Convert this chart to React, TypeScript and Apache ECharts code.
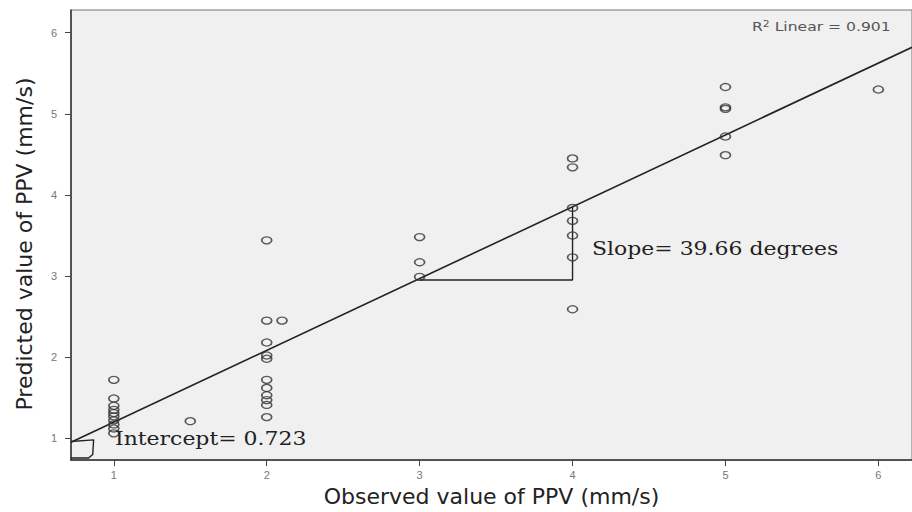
import React, { useEffect, useRef } from "react";
import * as echarts from "echarts";

// Observed (x) vs predicted (y) PPV, mm/s
const pointsObs1: number[] = [1, 1, 1, 1, 1, 1, 1, 1, 1, 1];
const pointsPred1: number[] = [1.72, 1.49, 1.40, 1.35, 1.31, 1.27, 1.22, 1.17, 1.12, 1.06];
const pointsObs2: number[] = [1.5, 2, 2, 2.1, 2, 2, 2, 2, 2, 2, 2, 2, 2];
const pointsPred2: number[] = [1.21, 3.44, 2.45, 2.45, 2.18, 2.02, 1.98, 1.72, 1.62, 1.53, 1.47, 1.41, 1.26];
const pointsObs3: number[] = [3, 3, 3, 4, 4, 4, 4, 4, 4, 4];
const pointsPred3: number[] = [3.48, 3.17, 2.99, 4.45, 4.34, 3.84, 3.68, 3.50, 3.23, 2.59];
const pointsObs4: number[] = [5, 5, 5, 5, 5, 6];
const pointsPred4: number[] = [5.33, 5.08, 5.06, 4.72, 4.49, 5.30];

const observed: number[] = [...pointsObs1, ...pointsObs2, ...pointsObs3, ...pointsObs4];
const predicted: number[] = [...pointsPred1, ...pointsPred2, ...pointsPred3, ...pointsPred4];

// fit line end points
const fitLine: number[][] = [[0.72, 0.95], [6.22, 5.82]];
// slope triangle
const slopeTriangle: number[][] = [[3, 2.95], [4, 2.95], [4, 3.85]];
// intercept marker box at the origin corner
const interceptBox: number[][] = [[0.72, 0.96], [0.868, 0.98], [0.862, 0.8], [0.835, 0.755], [0.72, 0.755]];

const tickValues: number[] = [1, 2, 3, 4, 5, 6];
const xRange: number[] = [0.72, 6.22];
const yRange: number[] = [0.73, 6.28];

const xTitle = "Observed value of PPV (mm/s)";
const yTitle = "Predicted value of PPV (mm/s)";
const slopeText = "Slope= 39.66 degrees";
const interceptText = "Intercept= 0.723";
const r2Value = "0.901";

export default function App() {
  const ref = useRef<HTMLDivElement>(null);
  useEffect(() => {
    if (!ref.current) return;
    const chart = echarts.init(ref.current, undefined, { renderer: "svg" });
    const scatterData = observed.map((x, i) => [x, predicted[i]]);
    const axisLabelStyle = {
      color: "#777",
      fontSize: 11,
      fontFamily: "Liberation Sans",
    };
    chart.setOption({
      animation: false,
      backgroundColor: "#ffffff",
      grid: {
        left: 71,
        top: 10,
        right: -2,
        bottom: 49,
        show: true,
        backgroundColor: "#f0f0f0",
        borderColor: "#777",
        borderWidth: 1,
      },
      xAxis: {
        type: "value",
        min: xRange[0],
        max: xRange[1],
        name: xTitle,
        nameLocation: "middle",
        nameGap: 21,
        nameTextStyle: { fontSize: 22, fontFamily: "DejaVu Sans", color: "#222" },
        axisLine: { show: true, onZero: false, lineStyle: { color: "#333", width: 1.5 } },
        axisTick: { show: true, inside: false, length: 6, customValues: tickValues, lineStyle: { color: "#444" } },
        axisLabel: { ...axisLabelStyle, margin: 9, customValues: tickValues },
        splitLine: { show: false },
      },
      yAxis: {
        type: "value",
        min: yRange[0],
        max: yRange[1],
        name: yTitle,
        nameLocation: "middle",
        nameGap: 36,
        nameTextStyle: { fontSize: 22, fontFamily: "DejaVu Sans", color: "#222", padding: [0, 18, 0, 0] },
        axisLine: { show: true, onZero: false, lineStyle: { color: "#333", width: 1.5 } },
        axisTick: { show: true, inside: false, length: 6, customValues: tickValues, lineStyle: { color: "#444" } },
        axisLabel: { ...axisLabelStyle, margin: 14, customValues: tickValues },
        splitLine: { show: false },
      },
      series: [
        {
          type: "line",
          data: fitLine,
          symbol: "none",
          lineStyle: { color: "#222", width: 1.6 },
          z: 3,
        },
        {
          type: "line",
          data: slopeTriangle,
          symbol: "none",
          lineStyle: { color: "#222", width: 1.4 },
          z: 3,
        },
        {
          type: "line",
          data: interceptBox,
          symbol: "none",
          lineStyle: { color: "#222", width: 1.4 },
          z: 3,
        },
        {
          type: "scatter",
          data: scatterData,
          symbol: "circle",
          symbolSize: [10, 7],
          itemStyle: { color: "rgba(0,0,0,0)", borderColor: "#333", borderWidth: 1.5 },
          z: 4,
        },
      ],
      graphic: [
        {
          type: "text",
          left: 592,
          top: 240,
          scaleX: 1.22,
          style: { text: slopeText, font: "18px 'DejaVu Serif'", fill: "#222" },
          z: 10,
        },
        {
          type: "text",
          left: 115,
          top: 430,
          scaleX: 1.22,
          style: { text: interceptText, font: "18px 'DejaVu Serif'", fill: "#222" },
          z: 10,
        },
        {
          type: "text",
          left: 752,
          top: 19,
          scaleX: 1.2,
          style: {
            text: "{a|R}{s|2}{a| Linear = " + r2Value + "}",
            rich: {
              a: { fontSize: 13, fontFamily: "DejaVu Sans", fill: "#555", color: "#555" },
              s: { fontSize: 9, fontFamily: "DejaVu Sans", fill: "#555", color: "#555", verticalAlign: "top", padding: [0, 0, 6, 0] },
            },
          },
          z: 10,
        },
      ],
    });
    return () => chart.dispose();
  }, []);
  return (
    <div
      ref={ref}
      style={{ position: "fixed", left: 0, top: 0, width: 912, height: 512 }}
    />
  );
}
